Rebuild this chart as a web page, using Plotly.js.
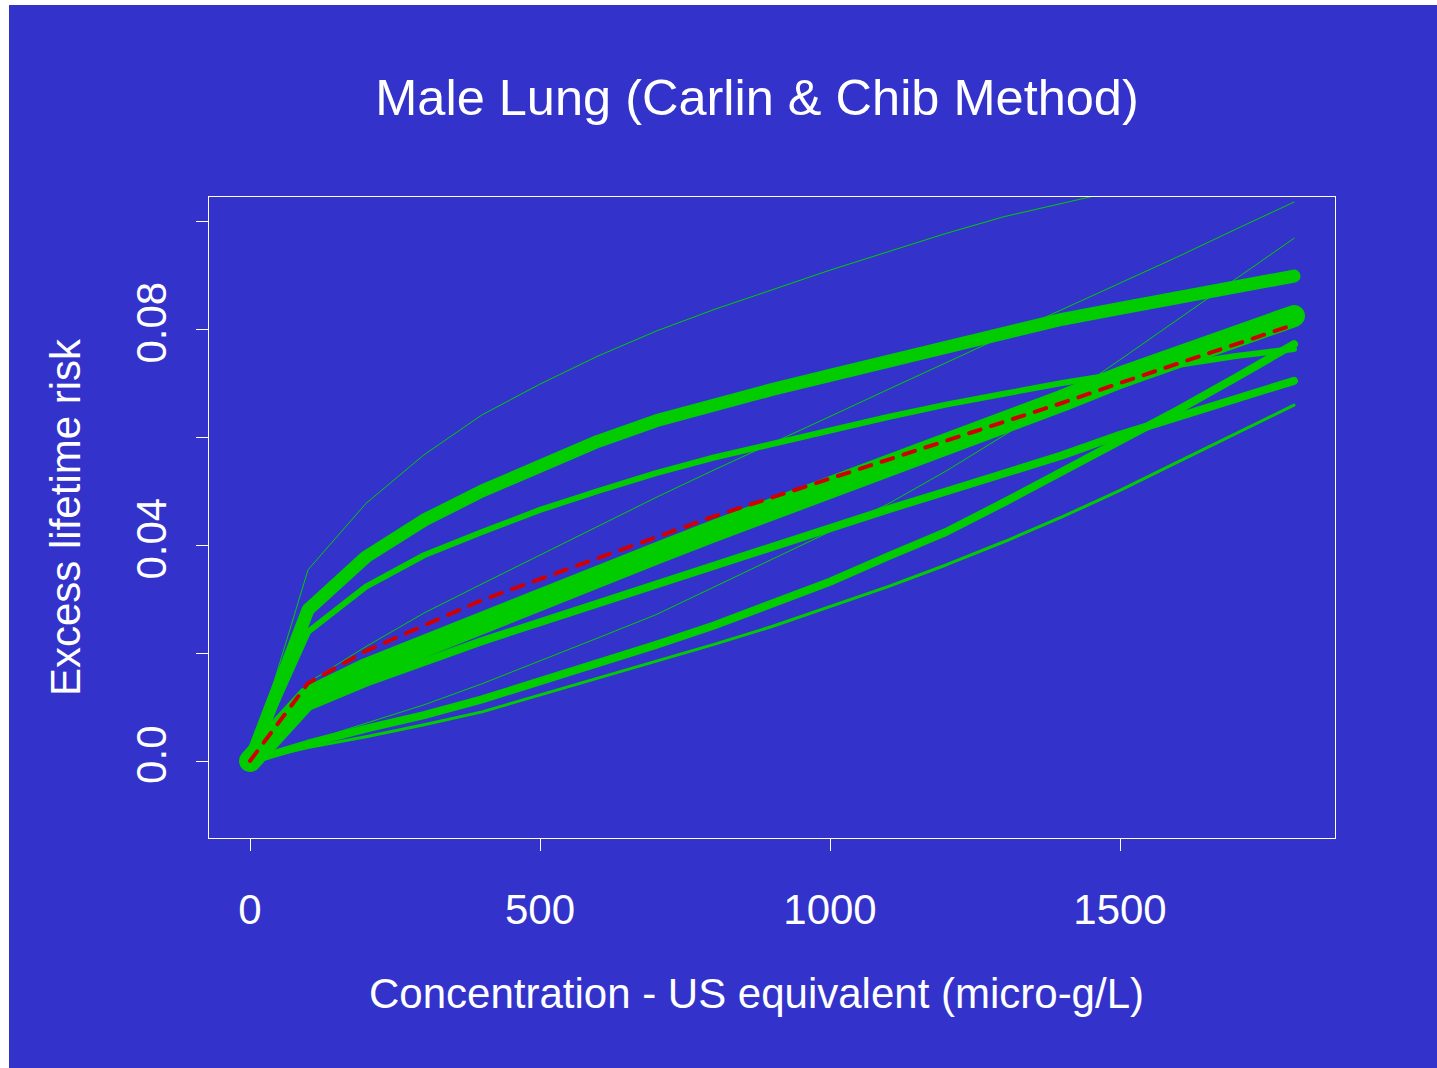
<!DOCTYPE html>
<html>
<head>
<meta charset="utf-8">
<script src="https://cdn.plot.ly/plotly-3.0.1.min.js"></script>
<style>
  html, body { margin: 0; padding: 0; background: #ffffff; }
  #chart { position: absolute; left: 9px; top: 5px; width: 1428px; height: 1063px; }
</style>
</head>
<body>
<div id="chart"></div>
<script>
// Concentration grid (micro-g/L)
const concentration = [0, 100, 200, 300, 400, 500, 600, 700, 800, 900,
                       1000, 1100, 1200, 1300, 1400, 1500, 1600, 1700, 1800];

// Excess lifetime risk curves, one per model
const riskSteepConcave = [0, 0.0354, 0.0477, 0.0567, 0.0641, 0.0698, 0.0750, 0.0796, 0.0836, 0.0873,
                          0.0909, 0.0943, 0.0977, 0.1008, 0.1033, 0.1058, 0.1082, 0.1105, 0.1127];
const riskHeavyConcave = [0, 0.0280, 0.0378, 0.0446, 0.0500, 0.0548, 0.0592, 0.0630, 0.0661, 0.0688,
                          0.0714, 0.0741, 0.0768, 0.0795, 0.0818, 0.0838, 0.0858, 0.0878, 0.0898];
const riskFlattening   = [0, 0.0239, 0.0323, 0.0381, 0.0424, 0.0465, 0.0500, 0.0533, 0.0562, 0.0588,
                          0.0612, 0.0637, 0.0660, 0.0680, 0.0700, 0.0717, 0.0734, 0.0750, 0.0763];
const riskNearLinear   = [0, 0.0145, 0.0212, 0.0274, 0.0328, 0.0381, 0.0434, 0.0488, 0.0539, 0.0588,
                          0.0638, 0.0688, 0.0738, 0.0787, 0.0836, 0.0885, 0.0934, 0.0985, 0.1035];
const riskSteepConvex  = [0, 0.0036, 0.0070, 0.0104, 0.0143, 0.0185, 0.0228, 0.0271, 0.0322, 0.0373,
                          0.0425, 0.0476, 0.0537, 0.0603, 0.0669, 0.0743, 0.0818, 0.0893, 0.0968];
const riskHeavyLinear  = [0, 0.0118, 0.0170, 0.0215, 0.0258, 0.0300, 0.0342, 0.0384, 0.0426, 0.0465,
                          0.0504, 0.0545, 0.0586, 0.0627, 0.0667, 0.0710, 0.0748, 0.0787, 0.0824];
const riskModerate     = [0, 0.0100, 0.0145, 0.0185, 0.0222, 0.0257, 0.0292, 0.0327, 0.0363, 0.0396,
                          0.0430, 0.0466, 0.0499, 0.0533, 0.0566, 0.0604, 0.0637, 0.0671, 0.0704];
const riskConvex       = [0, 0.0032, 0.0060, 0.0085, 0.0114, 0.0147, 0.0181, 0.0215, 0.0251, 0.0292,
                          0.0332, 0.0379, 0.0424, 0.0479, 0.0535, 0.0590, 0.0650, 0.0710, 0.0772];
const riskLowConvex    = [0, 0.0025, 0.0045, 0.0067, 0.0091, 0.0122, 0.0153, 0.0184, 0.0216, 0.0249,
                          0.0286, 0.0323, 0.0363, 0.0406, 0.0452, 0.0501, 0.0554, 0.0606, 0.0659];

// Model-averaged curve (dashed)
const riskAverage      = [0, 0.0144, 0.0204, 0.0250, 0.0298, 0.0337, 0.0376, 0.0415, 0.0453, 0.0488,
                          0.0523, 0.0558, 0.0593, 0.0628, 0.0663, 0.0700, 0.0736, 0.0772, 0.0808];

// Axis ticks
const xTickValues = [0, 500, 1000, 1500];
const xTickLabels = ['0', '500', '1000', '1500'];
const yTickValues = [0, 0.02, 0.04, 0.06, 0.08, 0.10];
const yTickLabels = ['0.0', '', '0.04', '', '0.08', ''];

const GREEN = '#00CC00';
const BLUE = '#3333CC';
const FONT = 'Liberation Sans, Arial, sans-serif';

// Line weight reflects each model's weight
const modelCurves = [
  { y: riskSteepConcave, width: 1 },
  { y: riskNearLinear,   width: 1 },
  { y: riskSteepConvex,  width: 1 },
  { y: riskLowConvex,    width: 3 },
  { y: riskFlattening,   width: 6 },
  { y: riskModerate,     width: 8 },
  { y: riskConvex,       width: 8 },
  { y: riskHeavyConcave, width: 13 },
  { y: riskHeavyLinear,  width: 22 }
];

const traces = modelCurves.map(c => ({
  type: 'scatter',
  mode: 'lines',
  x: concentration,
  y: c.y,
  line: { color: GREEN, width: c.width },
  hoverinfo: 'skip',
  showlegend: false
}));

traces.push({
  type: 'scatter',
  mode: 'lines',
  x: concentration,
  y: riskAverage,
  line: { color: '#D00000', width: 4, dash: '12px,11px' },
  hoverinfo: 'skip',
  showlegend: false
});

const axisFont = { family: FONT, size: 42, color: '#FFFFFF' };

const layout = {
  width: 1428,
  height: 1063,
  paper_bgcolor: BLUE,
  plot_bgcolor: BLUE,
  margin: { l: 200, r: 102, t: 192, b: 230, pad: 0 },
  showlegend: false,
  title: {
    text: 'Male Lung (Carlin &amp; Chib Method)',
    font: { family: FONT, size: 50.5, color: '#FFFFFF' },
    xref: 'container', x: 748 / 1428, xanchor: 'center',
    yref: 'container', y: 1 - 92 / 1063, yanchor: 'middle'
  },
  xaxis: {
    range: [-70.69, 1870.69],
    tickmode: 'array',
    tickvals: xTickValues,
    ticktext: xTickLabels,
    ticks: 'outside', ticklen: 12, tickwidth: 1, tickcolor: '#FFFFFF',
    ticklabelstandoff: 23,
    tickfont: axisFont,
    showline: true, linecolor: '#FFFFFF', linewidth: 1, mirror: true,
    showgrid: false, zeroline: false, fixedrange: true
  },
  yaxis: {
    range: [-0.014259, 0.104444],
    tickmode: 'array',
    tickvals: yTickValues,
    ticktext: yTickLabels,
    tickangle: -90,
    ticks: 'outside', ticklen: 12, tickwidth: 1, tickcolor: '#FFFFFF',
    ticklabelstandoff: 13,
    tickfont: axisFont,
    showline: true, linecolor: '#FFFFFF', linewidth: 1, mirror: true,
    showgrid: false, zeroline: false, fixedrange: true
  },
  annotations: [
    {
      text: 'Concentration - US equivalent (micro-g/L)',
      xref: 'paper', yref: 'paper',
      x: (747 - 200) / 1126, y: -155 / 641,
      xanchor: 'center', yanchor: 'middle',
      showarrow: false, font: axisFont
    },
    {
      text: 'Excess lifetime risk',
      xref: 'paper', yref: 'paper',
      x: (56 - 200) / 1126, y: (833 - 512) / 641,
      xanchor: 'center', yanchor: 'middle', textangle: -90,
      showarrow: false, font: axisFont
    }
  ]
};

Plotly.newPlot('chart', traces, layout, { displayModeBar: false, staticPlot: true }).then(gd => {
  // Rounded ends and joins on every curve
  gd.querySelectorAll('.scatterlayer path.js-line').forEach(p => {
    p.style.strokeLinejoin = 'round';
    p.style.strokeLinecap = 'round';
  });
});
</script>
</body>
</html>
